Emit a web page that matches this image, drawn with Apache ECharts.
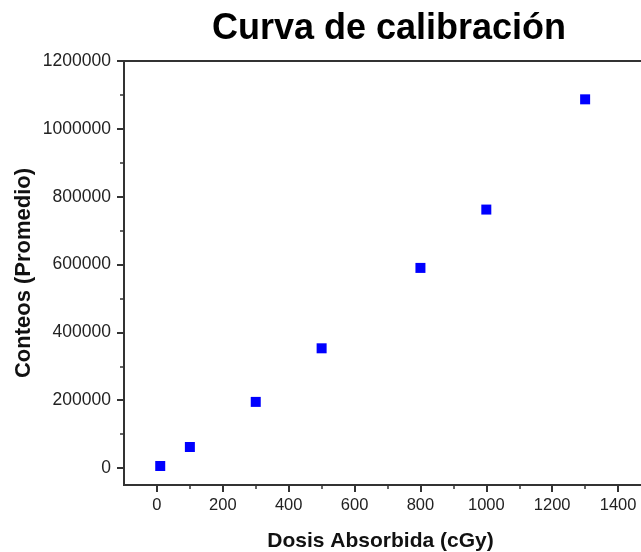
<!DOCTYPE html>
<html><head><meta charset="utf-8">
<script src="https://cdn.jsdelivr.net/npm/echarts@6/dist/echarts.min.js"></script>
<style>html,body{margin:0;padding:0;background:#fff}#c{width:641px;height:552px}</style>
</head><body><div id="c"></div>
<script>
const dosis = [10, 100, 300, 500, 800, 1000, 1300];
const conteos = [6000, 62000, 195000, 353000, 590000, 762000, 1087000];
const titleText = 'Curva de calibración';
const xName = 'Dosis Absorbida (cGy)';
const yName = 'Conteos (Promedio)';
const xTickMin = 0, xTickMax = 1400, xTickStep = 200;
const yTickMin = 0, yTickMax = 1200000, yTickStep = 200000;

const W = 641, H = 552;
const chart = echarts.init(document.getElementById('c'));
const font = 'Liberation Sans, Arial, sans-serif';
const ink = '#333';

// frame (full visible range)
const G = { left: 124, top: 61, right: -10, bottom: 67 };
const xMin = -100, xMax = 1500, yMin = -50000, yMax = 1200000;
const gw = W - G.left - G.right, gh = H - G.top - G.bottom;
const px = v => G.left + (v - xMin) / (xMax - xMin) * gw;
const py = v => G.top + (yMax - v) / (yMax - yMin) * gh;
// tick grid aligned to same scale
const G2 = { left: px(xTickMin), right: W - px(xTickMax), top: py(yTickMax), bottom: H - py(yTickMin) };

chart.setOption({
  animation: false,
  title: { text: titleText, left: 384, top: 6, textAlign: 'center',
    textStyle: { fontFamily: font, fontSize: 36, fontWeight: 'bold', color: '#000' } },
  grid: [
    Object.assign({ show: true, borderColor: ink, borderWidth: 2, outerBoundsMode: 'none', containLabel: false }, G),
    Object.assign({ show: false, outerBoundsMode: 'none', containLabel: false }, G2)
  ],
  xAxis: [{
    gridIndex: 0, type: 'value', min: xMin, max: xMax,
    name: xName, nameLocation: 'middle', nameGap: 46,
    nameTextStyle: { fontFamily: font, fontSize: 21, fontWeight: 'bold', color: '#111', padding: [0, 14, 0, 0] },
    axisLine: { show: true, onZero: false, lineStyle: { color: ink, width: 2 } },
    axisTick: { show: false }, axisLabel: { show: false }, splitLine: { show: false }
  }, {
    gridIndex: 1, type: 'value', min: xTickMin, max: xTickMax, interval: xTickStep,
    offset: (H - G.bottom) - py(yTickMin),
    axisLine: { show: false, onZero: false },
    axisTick: { show: true, length: 7, lineStyle: { color: ink, width: 2 } },
    minorTick: { show: true, splitNumber: 2, length: 4, lineStyle: { color: ink, width: 1.5 } },
    splitLine: { show: false },
    axisLabel: { fontFamily: font, fontSize: 16.5, color: '#222', margin: 12, formatter: v => String(v) }
  }],
  yAxis: [{
    gridIndex: 0, type: 'value', min: yMin, max: yMax,
    name: yName, nameLocation: 'middle', nameGap: 89, nameRotate: 90,
    nameTextStyle: { fontFamily: font, fontSize: 22, fontWeight: 'bold', color: '#111' },
    axisLine: { show: true, onZero: false, lineStyle: { color: ink, width: 2 } },
    axisTick: { show: false }, axisLabel: { show: false }, splitLine: { show: false }
  }, {
    gridIndex: 1, type: 'value', min: yTickMin, max: yTickMax, interval: yTickStep,
    offset: px(xTickMin) - G.left,
    axisLine: { show: false, onZero: false },
    axisTick: { show: true, length: 7, lineStyle: { color: ink, width: 2 } },
    minorTick: { show: true, splitNumber: 2, length: 4, lineStyle: { color: ink, width: 1.5 } },
    splitLine: { show: false },
    axisLabel: { fontFamily: font, fontSize: 17.5, color: '#222', margin: 13, formatter: v => String(v) }
  }],
  series: [{
    type: 'scatter', xAxisIndex: 0, yAxisIndex: 0, symbol: 'rect', symbolSize: 10,
    itemStyle: { color: '#0000ff', opacity: 1 },
    data: dosis.map((d, i) => [d, conteos[i]])
  }]
});
</script></body></html>
